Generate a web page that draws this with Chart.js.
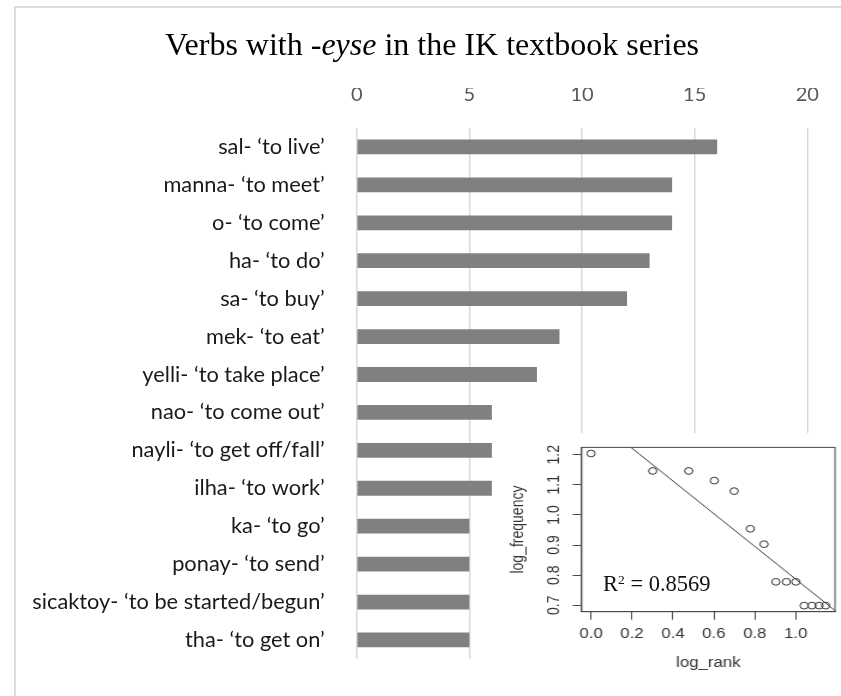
<!DOCTYPE html>
<html>
<head>
<meta charset="utf-8">
<title>Verbs with -eyse in the IK textbook series</title>
<script src="https://cdn.jsdelivr.net/npm/chart.js@4.4.1/dist/chart.umd.min.js"></script>
<style>
  html, body { margin: 0; padding: 0; background: #fff; width: 841px; height: 696px; overflow: hidden; }
  #frame { position: absolute; left: 14px; top: 6px; width: 900px; height: 800px;
           border-top: 2px solid #dcdcdc; border-left: 2px solid #dcdcdc; }
  #main { position: absolute; left: 0; top: 0; }
  #insetBox { position: absolute; left: 505px; top: 433px; width: 336px; height: 263px;
              background: #fff; overflow: hidden; }
  #inset { position: absolute; left: 0; top: 0; transform-origin: 0 0; transform: scaleX(1.2); }
  #r2 { position: absolute; left: 603px; top: 573px; font-family: "Liberation Serif", "Times New Roman", serif;
        font-size: 22.5px; line-height: 1; color: #111; white-space: nowrap; }
  #r2 sup { font-size: 0.6em; line-height: 0; vertical-align: 0.55em; }
</style>
</head>
<body>
<div id="frame"></div>
<canvas id="main" width="841" height="696"></canvas>
<div id="insetBox"><canvas id="inset" width="280" height="263"></canvas></div>
<div id="r2">R<sup>2</sup> = 0.8569</div>

<script>
// Verb stems with the -eyse ending and how often each occurs
const verbs = [
  "sal- \u2018to live\u2019",
  "manna- \u2018to meet\u2019",
  "o- \u2018to come\u2019",
  "ha- \u2018to do\u2019",
  "sa- \u2018to buy\u2019",
  "mek- \u2018to eat\u2019",
  "yelli- \u2018to take place\u2019",
  "nao- \u2018to come out\u2019",
  "nayli- \u2018to get off/fall\u2019",
  "ilha- \u2018to work\u2019",
  "ka- \u2018to go\u2019",
  "ponay- \u2018to send\u2019",
  "sicaktoy- \u2018to be started/begun\u2019",
  "tha- \u2018to get on\u2019"
];
const counts = [16, 14, 14, 13, 12, 9, 8, 6, 6, 6, 5, 5, 5, 5];
const countTicks = [0, 5, 10, 15, 20];

// Rank/frequency on log scales (Zipf plot)
const logRank = [0, 0.301, 0.477, 0.602, 0.699, 0.778, 0.845, 0.903, 0.954, 1.0, 1.041, 1.079, 1.114, 1.146];
const logFreq = [1.204, 1.146, 1.146, 1.114, 1.079, 0.954, 0.903, 0.778, 0.778, 0.778, 0.699, 0.699, 0.699, 0.699];
const rankTicks = [0, 0.2, 0.4, 0.6, 0.8, 1.0];
const freqTicks = [0.7, 0.8, 0.9, 1.0, 1.1, 1.2];
const rankRange = [-0.0458, 1.1918];
const freqRange = [0.6788, 1.2242];
const fitIntercept = 1.3302;
const fitSlope = -0.5436;

// Title pieces: the suffix is set in italics
const titleParts = [
  { text: "Verbs with -", style: "" },
  { text: "eyse", style: "italic " },
  { text: " in the IK textbook series", style: "" }
];

const titlePlugin = {
  id: 'mixedTitle',
  afterDraw(chart) {
    const ctx = chart.ctx;
    const size = 32;
    const family = '"Liberation Serif", "Times New Roman", serif';
    ctx.save();
    ctx.fillStyle = '#000';
    ctx.textBaseline = 'alphabetic';
    ctx.textAlign = 'left';
    let total = 0;
    const widths = titleParts.map(p => {
      ctx.font = p.style + size + 'px ' + family;
      const w = ctx.measureText(p.text).width;
      total += w;
      return w;
    });
    let x = 432 - total / 2;
    titleParts.forEach((p, i) => {
      ctx.font = p.style + size + 'px ' + family;
      ctx.fillText(p.text, x, 55);
      x += widths[i];
    });
    ctx.restore();
  }
};

new Chart(document.getElementById('main'), {
  type: 'bar',
  data: {
    labels: verbs,
    datasets: [{
      data: counts,
      backgroundColor: '#808080',
      borderWidth: 0,
      barPercentage: 0.39,
      categoryPercentage: 1
    }]
  },
  options: {
    indexAxis: 'y',
    responsive: false,
    animation: false,
    events: [],
    layout: { padding: { left: 0, right: 33.7, top: 88, bottom: 29 } },
    plugins: { legend: { display: false }, tooltip: { enabled: false }, title: { display: false } },
    scales: {
      x: {
        position: 'top',
        min: 0,
        max: 20,
        afterBuildTicks: s => { s.ticks = countTicks.map(v => ({ value: v })); },
        afterFit: s => { s.height = 40; },
        grid: { color: '#d9d9d9', lineWidth: 1.5, drawTicks: false },
        border: { display: false },
        ticks: { color: '#595959', font: { family: 'Lato', size: 20 }, padding: 21.5 }
      },
      y: {
        afterFit: s => { s.width = 356.7; },
        grid: { display: false },
        border: { display: false },
        ticks: { color: '#1a1a1a', font: { family: 'Lato', size: 21.8 }, padding: 24, autoSkip: false }
      }
    }
  },
  plugins: [titlePlugin]
});

// Frame around the inset plot area
const boxPlugin = {
  id: 'plotBox',
  afterDatasetsDraw(chart) {
    const a = chart.chartArea;
    const ctx = chart.ctx;
    ctx.save();
    ctx.strokeStyle = '#4a4a4a';
    ctx.lineWidth = 1;
    ctx.strokeRect(a.left, a.top, a.right - a.left, a.bottom - a.top);
    ctx.restore();
  }
};

const sans = '"Liberation Sans", Arial, sans-serif';
new Chart(document.getElementById('inset'), {
  type: 'scatter',
  data: {
    datasets: [
      {
        type: 'line',
        data: rankRange.map(x => ({ x: x, y: fitIntercept + fitSlope * x })),
        borderColor: '#3a3a3a',
        borderWidth: 1,
        pointRadius: 0,
        fill: false
      },
      {
        data: logRank.map((x, i) => ({ x: x, y: logFreq[i] })),
        pointStyle: 'circle',
        pointRadius: 3.4,
        borderColor: '#333',
        backgroundColor: 'rgba(0,0,0,0)',
        borderWidth: 1
      }
    ]
  },
  options: {
    responsive: false,
    animation: false,
    events: [],
    layout: { padding: { left: 0, right: 3.6, top: 14, bottom: 24.3 } },
    plugins: { legend: { display: false }, tooltip: { enabled: false } },
    scales: {
      x: {
        type: 'linear',
        min: rankRange[0],
        max: rankRange[1],
        afterBuildTicks: s => { s.ticks = rankTicks.map(v => ({ value: v })); },
        afterFit: s => { s.height = 60; },
        grid: { drawOnChartArea: false, drawTicks: true, tickLength: 8, color: '#4a4a4a', lineWidth: 1 },
        border: { display: true, color: '#4a4a4a', width: 1 },
        ticks: { callback: v => Number(v).toFixed(1), color: '#333', font: { family: sans, size: 14 }, padding: 6 },
        title: { display: true, text: 'log_rank', color: '#333', font: { family: sans, size: 14 }, padding: { top: 0, bottom: 0 } }
      },
      y: {
        type: 'linear',
        min: freqRange[0],
        max: freqRange[1],
        afterBuildTicks: s => { s.ticks = freqTicks.map(v => ({ value: v })); },
        afterFit: s => { s.width = 63.9; },
        grid: { drawOnChartArea: false, drawTicks: true, tickLength: 7.5, color: '#4a4a4a', lineWidth: 1 },
        border: { display: true, color: '#4a4a4a', width: 1 },
        ticks: { callback: v => Number(v).toFixed(1), minRotation: 90, maxRotation: 90, crossAlign: 'center',
                 color: '#333', font: { family: sans, size: 14 }, padding: 6 },
        title: { display: true, text: 'log_frequency', color: '#333', font: { family: sans, size: 14 }, padding: { top: 3, bottom: 0 } }
      }
    }
  },
  plugins: [boxPlugin]
});
</script>
</body>
</html>
